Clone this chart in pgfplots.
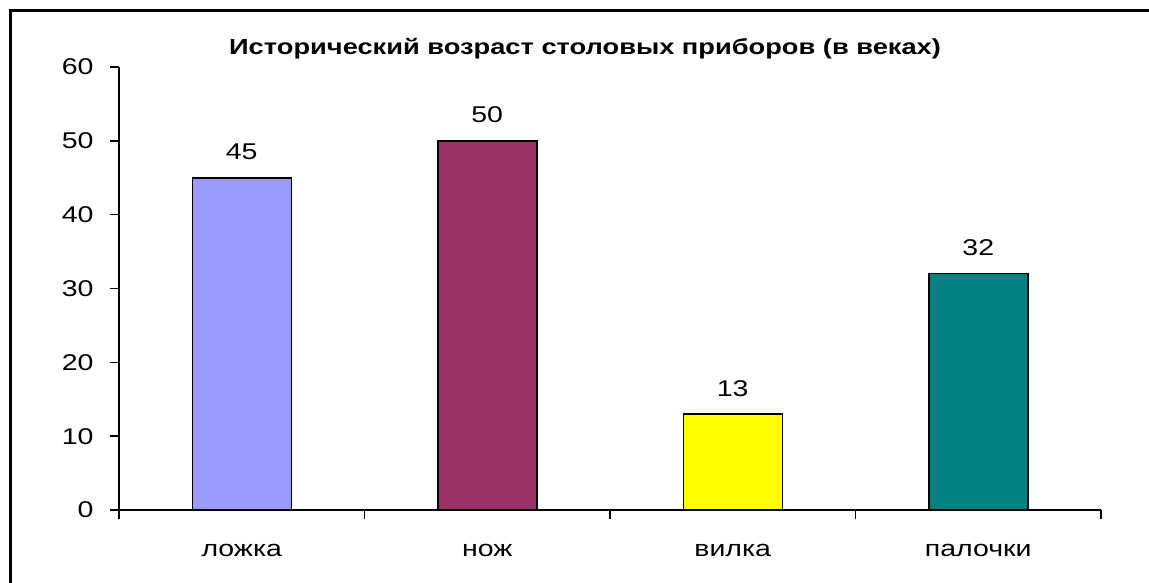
\documentclass[border=0pt]{standalone}
\usepackage{fontspec}
\setmainfont{Liberation Sans}[FakeStretch=1.25]
\usepackage{pgfplots}
\pgfplotsset{compat=1.18}
\definecolor{c1}{HTML}{9999FF}
\definecolor{c2}{HTML}{993366}
\definecolor{c3}{HTML}{FFFF00}
\definecolor{c4}{HTML}{008080}
\begin{document}
\begin{tikzpicture}
\useasboundingbox (0pt,0pt) rectangle (1149pt,582pt);
\draw[line width=3pt] (10pt,-5pt) -- (10pt,571pt) -- (1160pt,571pt);
\node[font=\fontsize{21.8}{24}\selectfont\bfseries] at (585pt,533pt) {Исторический возраст столовых приборов (в веках)};
\begin{axis}[at={(119pt,72pt)}, anchor=south west, scale only axis,
 width=982pt, height=443pt,
 xmin=-0.5, xmax=3.5, ymin=0, ymax=60,
 axis x line*=bottom, axis y line*=left,
 axis line style={line width=1.5pt, black},
 xtick={-0.5,0.5,1.5,2.5,3.5}, x tick label as interval,
 xticklabels={ложка,нож,вилка,палочки},
 ytick={0,10,...,60},
 tick align=outside, major tick length=9pt,
 tick style={line width=1.5pt, black},
 ticklabel style={font=\fontsize{22.8}{24}\selectfont},
 /pgf/number format/assume math mode=true,
 yticklabel style={xshift=-13pt},
 xticklabel style={yshift=-22pt},
 ybar, bar width=99pt, bar shift=0pt,
 nodes near coords,
 nodes near coords style={font=\fontsize{22.8}{24}\selectfont, anchor=base, yshift=18pt, black},
 every axis plot/.append style={draw=black, line width=1.5pt},
 clip=false]
\addplot[fill=c1] coordinates {(0,45)};
\addplot[fill=c2] coordinates {(1,50)};
\addplot[fill=c3] coordinates {(2,13)};
\addplot[fill=c4] coordinates {(3,32)};
\end{axis}
\end{tikzpicture}
\end{document}
